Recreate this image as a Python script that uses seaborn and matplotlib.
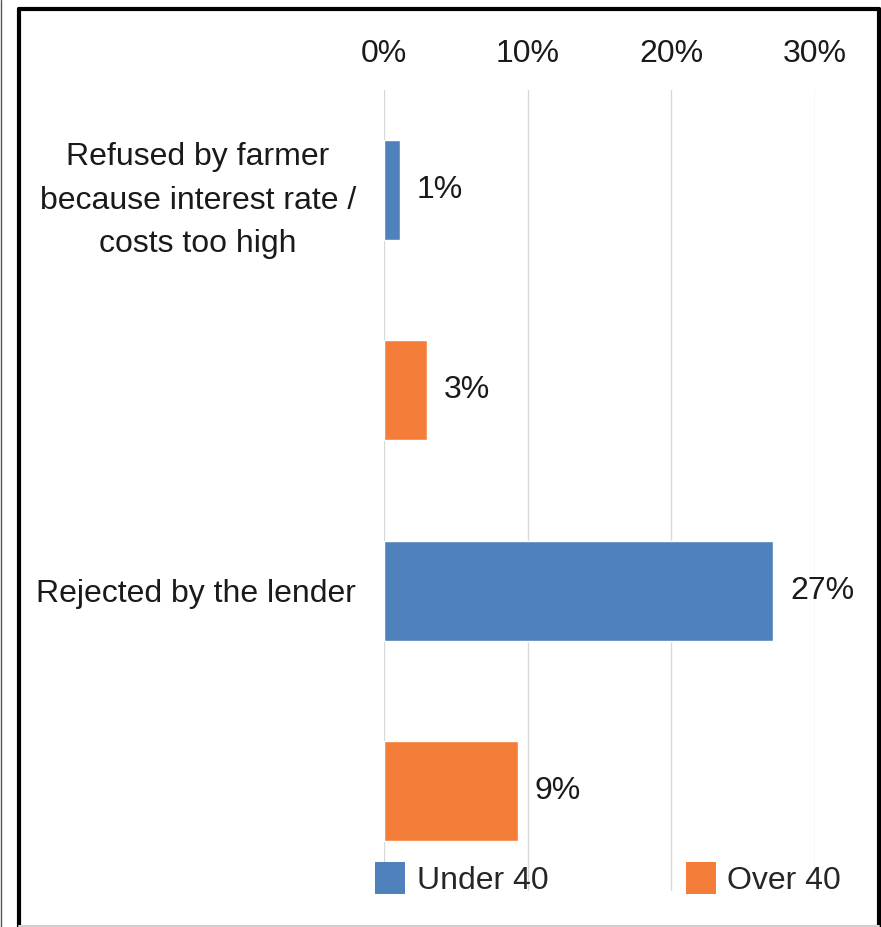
import matplotlib
matplotlib.use('Agg')
import pandas as pd
import seaborn as sns
import matplotlib.pyplot as plt
from matplotlib.lines import Line2D
from matplotlib.patches import Patch

# data
reasons = ['Refused by farmer\nbecause interest rate /\ncosts too high', 'Rejected by the lender']
groups = ['Under 40', 'Over 40']
under_40 = [1.1, 27.1]
over_40 = [3.0, 9.3]
colors = ['#4F81BD', '#F47D3A']
x_ticks = [0, 10, 20, 30]

# one row per bar, category label only on the Under 40 row
rows = []
for i, r in enumerate(reasons):
    rows.append((f'{i}a', r, groups[0], under_40[i]))
    rows.append((f'{i}b', '', groups[1], over_40[i]))
df = pd.DataFrame(rows, columns=['slot', 'label', 'group', 'share'])

sns.set_style('white')
plt.rcParams['font.family'] = ['Liberation Sans', 'DejaVu Sans']
fs = 23

W, H = 881, 927
fig = plt.figure(figsize=(W / 100, H / 100), dpi=100)
ax = fig.add_axes([384 / W, 1 - 891 / H, (815 - 384) / W, (891 - 90) / H])

sns.barplot(data=df, y='slot', x='share', hue='group', hue_order=groups,
            palette=colors, dodge=False, width=0.5, orient='h', ax=ax,
            legend=False, saturation=1)

ax.set_xlim(0, 30)
ax.set_ylim(3.5, -0.5)
ax.xaxis.tick_top()
ax.set_xticks(x_ticks)
ax.set_xticklabels([f'{v}%' for v in x_ticks], fontsize=fs, color='#1a1a1a')
ax.tick_params(axis='x', length=0, pad=15)
ax.set_yticks(range(len(df)))
ax.set_yticklabels(df['label'], fontsize=fs, multialignment='center',
                   linespacing=1.6, color='#1a1a1a')
ax.tick_params(axis='y', length=0, pad=20)
ax.set_xlabel('')
ax.set_ylabel('')
ax.grid(axis='x', color='#D9D9D9', linewidth=1)
ax.set_axisbelow(True)
for s in ax.spines.values():
    s.set_visible(False)

for c in ax.containers:
    ax.bar_label(c, fmt='{:.0f}%', padding=12, fontsize=fs, color='#1a1a1a', clip_on=False)

# legend along the bottom
handles = [Patch(facecolor=col, edgecolor='none') for col in colors]
fig.legend(handles, groups, loc='center', bbox_to_anchor=(608 / W, 1 - 879 / H),
           ncol=2, frameon=False, fontsize=fs, handlelength=0.95, handleheight=1.15,
           handletextpad=0.35, columnspacing=4.3, borderaxespad=0)

# outer frame
def fline(x0, y0, x1, y1, **kw):
    fig.add_artist(Line2D([x0 / W, x1 / W], [1 - y0 / H, 1 - y1 / H],
                          transform=fig.transFigure, **kw))

fline(19, 9, 879, 9, color='black', linewidth=3)
fline(19, 9, 19, 927, color='black', linewidth=3)
fline(879, 9, 879, 927, color='black', linewidth=3)
fline(19, 926, 879, 926, color='#D0D0D0', linewidth=1.5)
fline(0.5, 0, 0.5, 927, color='#555555', linewidth=1)

fig.savefig('out.png', dpi=100)
